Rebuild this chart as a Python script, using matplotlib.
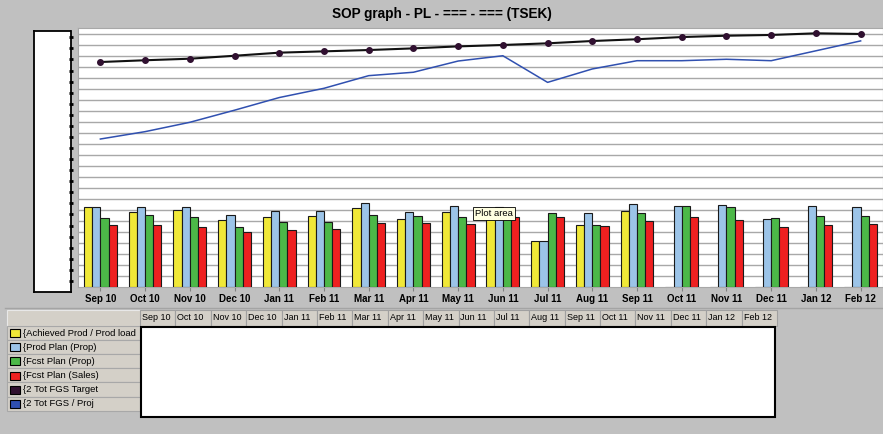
import numpy as np
import matplotlib
matplotlib.use("Agg")
import matplotlib.pyplot as plt
from matplotlib.patches import Rectangle
from matplotlib.lines import Line2D

W, H = 883, 434

months = ['Sep 10', 'Oct 10', 'Nov 10', 'Dec 10', 'Jan 11', 'Feb 11', 'Mar 11', 'Apr 11', 'May 11',
          'Jun 11', 'Jul 11', 'Aug 11', 'Sep 11', 'Oct 11', 'Nov 11', 'Dec 11', 'Jan 12', 'Feb 12']
achieved = [7.33, 6.85, 7.05, 6.15, 6.39, 6.45, 7.24, 6.18, 6.85, 6.8, 4.24, 5.66, 6.96,
            0, 0, 0, 0, 0]
prod_plan = [7.33, 7.27, 7.27, 6.6, 6.96, 6.9, 7.69, 6.82, 7.36, 7.33, 4.24, 6.72, 7.57,
             7.36, 7.45, 6.18, 7.36, 7.3]
fcst_prop = [6.27, 6.57, 6.39, 5.45, 5.96, 5.94, 6.54, 6.45, 6.39, 6.5, 6.72, 5.63, 6.72,
             7.36, 7.27, 6.27, 6.45, 6.45]
fcst_sales = [5.64, 5.69, 5.48, 5.06, 5.24, 5.27, 5.87, 5.87, 5.72, 6.4, 6.39, 5.54, 6.0,
              6.39, 6.12, 5.48, 5.63, 5.75]
fgs_target = [20.48, 20.64, 20.78, 21.05, 21.33, 21.45, 21.57, 21.72, 21.9, 22.03, 22.18, 22.39,
              22.55, 22.75, 22.87, 22.94, 23.09, 23.03]
fgs_proj = [13.48, 14.15, 15.0, 16.1, 17.25, 18.09, 19.24, 19.55, 20.57, 21.05, 18.63, 19.85,
            20.6, 20.6, 20.73, 20.6, 21.5, 22.4]

series_names = ['{Achieved Prod / Prod load', '{Prod Plan (Prop)', '{Fcst Plan (Prop)',
                '{Fcst Plan (Sales)', '{2 Tot FGS Target', '{2 Tot FGS / Proj']
colors = ['#f0e838', '#9cc4e8', '#4cb848', '#ee2020', '#301030', '#3050b0']

plt.rcParams['font.family'] = ['Liberation Sans', 'DejaVu Sans']


def rect(x0, y0, x1, y1):
    # pixel box -> figure fraction
    return [x0 / W, 1 - y1 / H, (x1 - x0) / W, (y1 - y0) / H]


fig = plt.figure(figsize=(W / 100, H / 100), dpi=100, facecolor='#c0c0c0')
ymax = (287.3 - 28) / 11

# left value box
axb = fig.add_axes(rect(34, 31, 70.5, 292))
axb.set_facecolor('white')
axb.set_xlim(0, 1)
axb.set_ylim(0, ymax)
axb.set_xticks([])
axb.set_yticks(np.arange(1, 24))
axb.yaxis.tick_right()
axb.tick_params(axis='y', direction='inout', length=3, width=2, color='black', labelright=False)
for s in axb.spines.values():
    s.set_color('black')
    s.set_linewidth(1.3)
axb.spines['top'].set_linestyle((0, (2, 1)))
axb.spines['right'].set_linestyle((0, (2, 1)))

# main plot
ax = fig.add_axes(rect(78, 28, 883, 287.3))
ax.set_facecolor('white')
x = np.arange(len(months))
w = 0.183
for i, vals in enumerate([achieved, prod_plan, fcst_prop, fcst_sales]):
    ax.bar(x + (i - 1.5) * w, vals, w, color=colors[i], edgecolor='#1a1a1a', linewidth=0.8, zorder=3)
ax.plot(x, fgs_target, color='#111111', lw=1.5, marker='o', ms=4, mfc=colors[4], mec=colors[4], zorder=4)
ax.plot(x, fgs_proj, color=colors[5], lw=1.1, zorder=4)
ax.set_xlim(-0.5, len(months) - 0.5)
ax.set_ylim(0, ymax)
ax.set_yticks(np.arange(1, 24))
ax.yaxis.grid(True, color='#a8a8a8', lw=1)
ax.set_axisbelow(True)
ax.tick_params(axis='y', left=False, labelleft=False)
ax.set_xticks(x)
ax.set_xticklabels(months, fontsize=7, fontweight='bold')
ax.tick_params(axis='x', length=3, color='#808080', pad=2)
for s in ax.spines.values():
    s.set_color('#a8a8a8')

fig.text(0.5, 1 - 14 / H, 'SOP graph - PL - === - === (TSEK)', ha='center', va='center',
         fontsize=9.8, fontweight='bold')

# overlay in pixel coordinates for the table and tooltip
ov = fig.add_axes([0, 0, 1, 1], facecolor='none')
ov.set_xlim(0, W)
ov.set_ylim(H, 0)
ov.axis('off')
ov.add_line(Line2D([5, W], [307.5, 307.5], color='#a4a4a4', lw=1))

cell_bg = '#d4d0c8'
cw = (777 - 140) / len(months)
ov.add_patch(Rectangle((7, 310), 133, 15.5, facecolor=cell_bg, edgecolor='#e8e8e8', lw=0.8))
for i, m in enumerate(months):
    x0 = 140 + i * cw
    ov.add_patch(Rectangle((x0, 310), cw, 15.5, facecolor=cell_bg, edgecolor='#a0a0a0', lw=0.8))
    ov.text(x0 + 2, 317.8, m, fontsize=6.5, va='center', ha='left')

rh = 14.1
for j, name in enumerate(series_names):
    y0 = 326 + j * rh
    ov.add_patch(Rectangle((7, y0), 133, rh, facecolor=cell_bg, edgecolor='#a8a8a8', lw=0.8))
    ov.add_patch(Rectangle((9.5, y0 + 3.2), 10, 8, facecolor=colors[j], edgecolor='black', lw=0.8))
    ov.text(23, y0 + rh / 2, name, fontsize=6.8, va='center', ha='left')

ov.add_patch(Rectangle((141, 326.5), 634, 90.5, facecolor='white', edgecolor='black', lw=1.5))

# tooltip left over the plot area
ov.text(475, 213.5, 'Plot area', fontsize=6.8, va='center', ha='left',
        bbox=dict(boxstyle='square,pad=0.25', facecolor='#ffffe1', edgecolor='black', lw=0.6))

fig.savefig('out.png', dpi=100, facecolor=fig.get_facecolor())
